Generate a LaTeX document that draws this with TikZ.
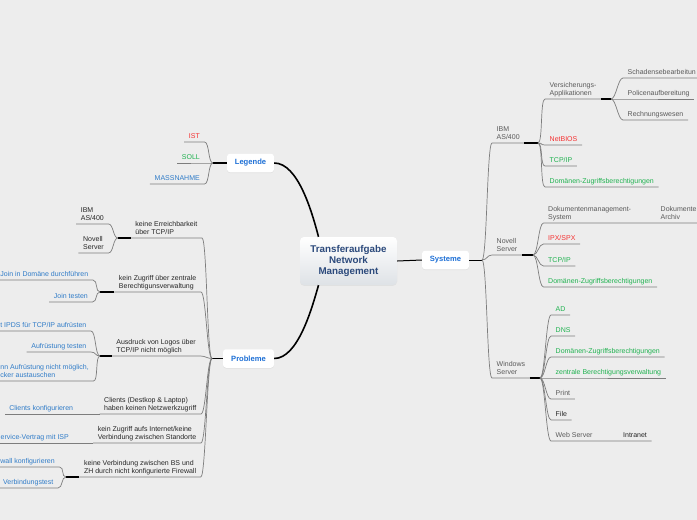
\documentclass[tikz,border=0pt]{standalone}
\usepackage{fontspec}
\setmainfont{Liberation Sans}
\usetikzlibrary{shadows}
\definecolor{bgcol}{RGB}{237,237,237}
\definecolor{titleblue}{RGB}{44,74,124}
\definecolor{titlegrad}{RGB}{222,226,230}
\definecolor{topicblue}{RGB}{30,112,214}
\definecolor{txtgray}{RGB}{90,90,90}
\definecolor{txtdark}{RGB}{38,38,38}
\definecolor{linegray}{RGB}{125,125,125}
\definecolor{softred}{RGB}{245,50,50}
\definecolor{softgreen}{RGB}{32,178,80}
\definecolor{actblue}{RGB}{48,124,200}
\newcommand{\topicfont}{\fontsize{7}{8}\selectfont}
\newcommand{\subfont}{\fontsize{7.6}{9}\selectfont\bfseries}
\newcommand{\titlefont}{\fontsize{9.8}{11}\selectfont\bfseries}

\begin{document}
\begin{tikzpicture}[x=1pt,y=-1pt,
    topic/.style={font=\topicfont, text=txtgray, inner xsep=4.5pt, inner ysep=1pt,
        align=left, execute at end node=\strut},
    rtopic/.style={topic, anchor=south west},
    ltopic/.style={topic, anchor=south east, text=txtdark},
    maintopic/.style={fill=white, rounded corners=3pt, minimum width=47pt,
        minimum height=18.5pt, inner sep=0pt, font=\subfont, text=topicblue,
        drop shadow={opacity=0.12, shadow xshift=0pt, shadow yshift=-0.8pt}},
    titlebox/.style={rounded corners=4pt, top color=white, bottom color=titlegrad,
        minimum width=97pt, minimum height=48pt, inner sep=0pt, align=center,
        font=\titlefont, text=titleblue,
        drop shadow={opacity=0.10, shadow xshift=0pt, shadow yshift=-0.8pt}},
    conn/.style={draw=linegray, line width=0.7pt},
    stub/.style={draw=black, line width=1.2pt},
    mainline/.style={draw=black, line width=1.6pt},
    rbranch/.style={out=0, in=180, out distance=5pt, in distance=5pt},
    lbranch/.style={out=180, in=0, out distance=5pt, in distance=5pt}]

    \fill[bgcol] (0,0) rectangle (697,520);
    \useasboundingbox (0,0) rectangle (697,520);

    % --- central topic ---
    \node[titlebox] (title) at (348.5,261) {Transferaufgabe\\Network\\Management};
    \node[maintopic] (sys) at (445.5,260) {Systeme};
    \node[maintopic] (leg) at (250.5,163) {Legende};
    \node[maintopic, minimum width=51pt] (prob) at (248.5,358.5) {Probleme};

    \draw[mainline] (leg.east) .. controls (298,163) and (312,212) .. ([xshift=-30pt]title.north);
    \draw[mainline] ([xshift=-30pt]title.south) .. controls (312,308) and (298,358.5) .. (prob.east);
    \draw[stub, line width=1pt] (title.east) -- (sys.west);

    % --- Legende ---
    \node[ltopic, text=softred] (ist) at (204.5,142) {IST};
    \node[ltopic, text=softgreen] (soll) at (204.5,163) {SOLL};
    \node[ltopic, text=actblue] (mass) at (204.5,184) {MASSNAHME};
    \coordinate (legJ) at (213,163);
    \draw[stub] (leg.west) -- (legJ);
    \foreach \c in {ist,soll,mass}
        \draw[conn] (legJ) to[lbranch] (\c.south east) -- (\c.south west);

    % --- Systeme ---
    \coordinate (sysJ) at (482,260);
    \draw[stub, line width=1pt] (sys.east) -- (sysJ);
    \node[rtopic] (ibm) at (492,143) {IBM\\AS/400};
    \node[rtopic] (nov) at (492,255) {Novell\\Server};
    \node[rtopic] (win) at (492,378) {Windows\\Server};
    \foreach \c in {ibm,nov,win}
        \draw[conn] (sysJ) to[rbranch] (\c.south west) -- (\c.south east);

    % IBM AS/400
    \node[rtopic] (vers) at (545,99) {Versicherungs-\\Applikationen};
    \node[rtopic, text=softred] (netbios) at (545,145) {NetBIOS};
    \node[rtopic, text=softgreen] (ibmTcp) at (545,166) {TCP/IP};
    \node[rtopic, text=softgreen] (ibmDom) at (545,187) {Domänen-Zugriffsberechtigungen};
    \coordinate (ibmJ) at (538,143);
    \draw[stub] (ibm.south east) -- (ibmJ);
    \foreach \c in {vers,netbios,ibmTcp,ibmDom}
        \draw[conn] (ibmJ) to[rbranch] (\c.south west) -- (\c.south east);

    \node[rtopic] (schad) at (623,78) {Schadensebearbeitun};
    \node[rtopic] (pol) at (623,99) {Policenaufbereitung};
    \node[rtopic] (rech) at (623,120) {Rechnungswesen};
    \coordinate (versJ) at (611,99);
    \draw[stub] (vers.south east) -- (versJ);
    \foreach \c in {schad,pol,rech}
        \draw[conn] (versJ) to[rbranch] (\c.south west) -- (\c.south east);

    % Novell Server
    \node[rtopic] (dok) at (543.5,223) {Dokumentenmanagement-\\System};
    \node[rtopic] (dokArch) at (656,223) {Dokumente\\Archiv};
    \node[rtopic, text=softred] (ipx) at (543.5,244) {IPX/SPX};
    \node[rtopic, text=softgreen] (novTcp) at (543.5,266) {TCP/IP};
    \node[rtopic, text=softgreen] (novDom) at (543.5,287) {Domänen-Zugriffsberechtigungen};
    \coordinate (novJ) at (533,255);
    \draw[stub] (nov.south east) -- (novJ);
    \draw[conn] (novJ) to[rbranch] (dok.south west) -- (dokArch.south east);
    \foreach \c in {ipx,novTcp,novDom}
        \draw[conn] (novJ) to[rbranch] (\c.south west) -- (\c.south east);

    % Windows Server
    \node[rtopic, text=softgreen] (ad) at (551,315) {AD};
    \node[rtopic, text=softgreen] (dns) at (551,336) {DNS};
    \node[rtopic, text=softgreen] (winDom) at (551,357) {Domänen-Zugriffsberechtigungen};
    \node[rtopic, text=softgreen] (zentral) at (551,378) {zentrale Berechtigungsverwaltung};
    \node[rtopic] (print) at (551,399) {Print};
    \node[rtopic, text=txtdark] (file) at (551,420) {File};
    \node[rtopic] (web) at (551,441) {Web Server};
    \node[rtopic, text=txtdark] (intranet) at (618.5,441) {Intranet};
    \coordinate (winJ) at (540,378);
    \draw[stub] (win.south east) -- (winJ);
    \foreach \c in {ad,dns,winDom,zentral,print,file}
        \draw[conn] (winJ) to[rbranch] (\c.south west) -- (\c.south east);
    \draw[conn] (winJ) to[rbranch] (web.south west) -- (intranet.south east);

    % --- Probleme ---
    \node[ltopic] (err) at (202,238) {keine Erreichbarkeit\\über TCP/IP};
    \node[ltopic] (zug) at (201,292) {kein Zugriff über zentrale\\Berechtigunsverwaltung};
    \node[ltopic] (aus) at (200.5,356) {Ausdruck von Logos über\\TCP/IP nicht möglich};
    \node[ltopic] (cli) at (201,414) {Clients (Destkop \& Laptop)\\haben keinen Netzwerkzugriff};
    \node[ltopic] (inet) at (201,443) {kein Zugriff aufs Internet/keine\\Verbindung zwischen Standorte};
    \node[ltopic] (fw) at (200.8,477) {keine Verbindung zwischen BS und\\ZH durch nicht konfigurierte Firewall};
    \coordinate (probJ) at (212,358.5);
    \draw[stub] (prob.west) -- (probJ);
    \foreach \c in {err,zug,aus,cli,inet,fw}
        \draw[conn] (probJ) to[lbranch] (\c.south east) -- (\c.south west);

    \node[ltopic] (errIbm) at (108.5,224) {IBM\\AS/400};
    \node[ltopic] (errNov) at (108.5,253) {Novell\\Server};
    \coordinate (errJ) at (118,238);
    \draw[stub] (err.south west) -- (errJ);
    \foreach \c in {errIbm,errNov}
        \draw[conn] (errJ) to[lbranch] (\c.south east) -- (\c.south west);

    \node[ltopic, text=actblue] (zugJoin) at (93,280) {Join in Domäne durchführen};
    \node[ltopic, text=actblue] (zugTest) at (92.5,302) {Join testen};
    \coordinate (zugJ) at (100,292);
    \draw[stub] (zug.south west) -- (zugJ);
    \foreach \c in {zugJoin,zugTest}
        \draw[conn] (zugJ) to[lbranch] (\c.south east) -- (\c.south west);

    \node[ltopic, text=actblue] (ausIpds) at (91,331) {t IPDS für TCP/IP aufrüsten};
    \node[ltopic, text=actblue] (ausTest) at (91,352) {Aufrüstung testen};
    \node[ltopic, text=actblue] (ausDruck) at (93.5,381) {nn Aufrüstung nicht möglich,\\cker austauschen};
    \coordinate (ausJ) at (100,356);
    \draw[stub] (aus.south west) -- (ausJ);
    \foreach \c in {ausIpds,ausTest,ausDruck}
        \draw[conn] (ausJ) to[lbranch] (\c.south east) -- (\c.south west);

    \node[ltopic, text=actblue] (cliKonf) at (77.8,414) {Clients konfigurieren};
    \draw[conn] (cli.south west) -- (cliKonf.south west);

    \node[ltopic, text=actblue] (inetIsp) at (73.5,443) {ervice-Vertrag mit ISP};
    \draw[conn] (inet.south west) -- (inetIsp.south west);

    \node[ltopic, text=actblue] (fwKonf) at (59.5,467) {wall konfigurieren};
    \node[ltopic, text=actblue] (fwTest) at (58,488) {Verbindungstest};
    \coordinate (fwJ) at (66,477);
    \draw[stub] (fw.south west) -- (fwJ);
    \foreach \c in {fwKonf,fwTest}
        \draw[conn] (fwJ) to[lbranch] (\c.south east) -- (\c.south west);
\end{tikzpicture}
\end{document}
